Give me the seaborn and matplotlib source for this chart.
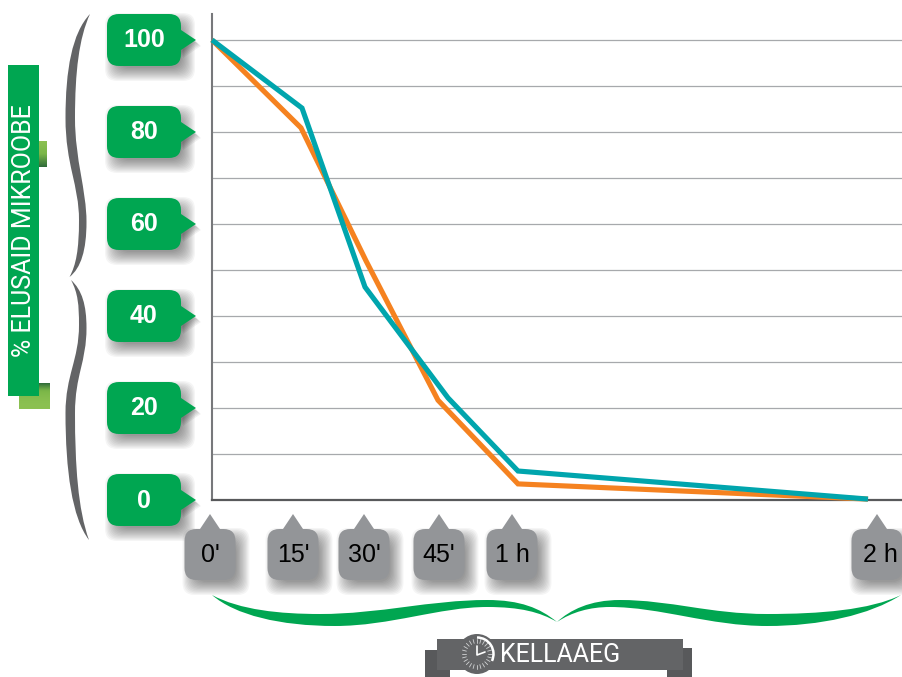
"""Elusaid mikroobe vs aeg: two decay curves with badge style axis labels."""
import numpy as np
import pandas as pd
import matplotlib
import matplotlib.pyplot as plt
from matplotlib.colors import LinearSegmentedColormap
from matplotlib.patches import Circle, FancyBboxPatch, PathPatch, Polygon, Rectangle, Arc
from matplotlib.path import Path
import seaborn as sns

matplotlib.use("Agg")

# chart values, x is the position along the (uneven) time axis
teal_x = [0, 90, 153, 236, 306, 656]
teal_y = [100, 85.2, 46.3, 22.2, 6.3, 0.2]
orange_x = [0, 89, 154, 226, 306, 656]
orange_y = [100, 80.9, 52, 21.7, 3.5, 0.2]

y_ticks = [0, 20, 40, 60, 80, 100]
grid_ticks = list(range(0, 101, 10))
time_labels = ["0'", "15'", "30'", "45'", "1 h", "2 h"]
time_label_x = [-2, 81, 152, 227, 300, 665]

y_title = "% ELUSAID MIKROOBE"
x_title = "KELLAAEG"

GREEN = "#00A651"
BADGE_GRAY = "#939598"
DARK_GRAY = "#636466"
TEAL = "#00A5AD"
ORANGE = "#F58220"

sns.set_theme(style="white")
plt.rcParams["font.family"] = ["Liberation Sans", "DejaVu Sans"]

W, H = 902, 677
fig = plt.figure(figsize=(W / 100, H / 100), dpi=100, facecolor="white")

# main plot
ax = fig.add_axes([212 / W, (H - 500) / H, 690 / W, 486 / H])
df = pd.concat(
    [
        pd.DataFrame({"x": orange_x, "y": orange_y, "serie": "orange"}),
        pd.DataFrame({"x": teal_x, "y": teal_y, "serie": "teal"}),
    ]
)
sns.lineplot(
    data=df,
    x="x",
    y="y",
    hue="serie",
    palette={"orange": ORANGE, "teal": TEAL},
    estimator=None,
    sort=False,
    linewidth=3.7,
    legend=False,
    ax=ax,
    zorder=5,
)
for line in ax.lines:
    line.set_clip_on(False)
    line.set_solid_joinstyle("miter")
    line.set_solid_capstyle("butt")
ax.set_xlim(0, 690)
ax.set_ylim(0, 105.65)
ax.set_yticks(grid_ticks)
ax.set_xticks([])
ax.tick_params(left=False, labelleft=False, bottom=False)
ax.set_xlabel("")
ax.set_ylabel("")
ax.grid(axis="y", color="#a7a9ac", linewidth=0.9)
ax.set_axisbelow(True)
sns.despine(ax=ax, top=True, right=True)
ax.spines["left"].set_color("#77787b")
ax.spines["left"].set_linewidth(1.5)
ax.spines["bottom"].set_color("#58595b")
ax.spines["bottom"].set_linewidth(1.6)

# overlay in image pixels for the badges and braces
deco = fig.add_axes([0, 0, 1, 1], facecolor="none")
deco.set_xlim(0, W)
deco.set_ylim(H, 0)
deco.axis("off")


def data_to_px(x, y):
    px, py = ax.transData.transform((x, y))
    return px, H - py


def soft_shadow(x, y, w, h, radius, dx=6, dy=7, zorder=1):
    for grow in np.linspace(8, -5, 12):
        deco.add_patch(
            FancyBboxPatch(
                (x + dx - grow + radius, y + dy - grow + radius),
                w + 2 * grow - 2 * radius,
                h + 2 * grow - 2 * radius,
                boxstyle=f"round,pad={radius},rounding_size={radius}",
                facecolor="black",
                edgecolor="none",
                alpha=0.04,
                zorder=zorder,
                clip_on=False,
            )
        )


def tip_shadow(points, dx=5, dy=6):
    for step in range(5):
        shifted = [(px + dx - step, py + dy - step) for px, py in points]
        deco.add_patch(Polygon(shifted, facecolor="black", edgecolor="none", alpha=0.06, zorder=1))


def rounded(x, y, w, h, radius, color, zorder=3):
    deco.add_patch(
        FancyBboxPatch(
            (x + radius, y + radius),
            w - 2 * radius,
            h - 2 * radius,
            boxstyle=f"round,pad={radius},rounding_size={radius}",
            facecolor=color,
            edgecolor="none",
            zorder=zorder,
            clip_on=False,
        )
    )


# y axis badges
for value in y_ticks:
    _, cy = data_to_px(0, value)
    tip = [(178, cy - 12), (196, cy), (178, cy + 12)]
    soft_shadow(107, cy - 26, 74, 52, 12)
    tip_shadow(tip)
    deco.add_patch(Polygon(tip, facecolor=GREEN, edgecolor="none", zorder=3))
    rounded(107, cy - 26, 74, 52, 12, GREEN)
    deco.text(144, cy + 7.5, str(value), color="white", fontsize=18, fontweight="bold",
              ha="center", va="baseline", zorder=4)

# time axis badges
for label, pos in zip(time_labels, time_label_x):
    cx, _ = data_to_px(pos, 0)
    tip = [(cx - 12, 532), (cx, 514), (cx + 12, 532)]
    soft_shadow(cx - 25.5, 529, 51, 51, 12)
    deco.add_patch(Polygon(tip, facecolor=BADGE_GRAY, edgecolor="none", zorder=3))
    rounded(cx - 25.5, 529, 51, 51, 12, BADGE_GRAY)
    # the 2 h label sits off centre in its badge
    text_x = cx + 3 if label == "2 h" else cx
    deco.text(text_x, 561.5, label, color="black", fontsize=18, ha="center", va="baseline", zorder=4)


def bezier_patch(start, segments, color):
    verts = [start]
    codes = [Path.MOVETO]
    for seg in segments:
        verts.extend(seg)
        codes.extend([Path.CURVE4] * 3)
    deco.add_patch(PathPatch(Path(verts, codes), facecolor=color, edgecolor="none", zorder=2, clip_on=False))


# left gray brace
bezier_patch((90, 14), [
    [(72, 33), (65.5, 70), (65.5, 118)],
    [(65.5, 165), (79, 185), (79, 220)],
    [(79, 250), (76, 265), (69.5, 277)],
    [(81, 268), (86.5, 250), (86.5, 222)],
    [(86.5, 190), (75, 160), (75, 118)],
    [(75, 72), (79, 38), (90, 14)],
], DARK_GRAY)
bezier_patch((71, 280), [
    [(82, 290), (86.5, 305), (86.5, 328)],
    [(86.5, 362), (75, 375), (75, 413)],
    [(75, 465), (78, 510), (89, 540)],
    [(72, 518), (65.5, 470), (65.5, 413)],
    [(65.5, 375), (79, 360), (79, 325)],
    [(79, 305), (78, 293), (71, 280)],
], DARK_GRAY)

# bottom green brace
bezier_patch((212, 595), [
    [(240, 610), (280, 614), (320, 614)],
    [(380, 614), (430, 600), (487, 600)],
    [(520, 600), (540, 608), (557, 622)],
    [(540, 612), (520, 607), (487, 607)],
    [(440, 607), (390, 626), (335, 626)],
    [(280, 626), (235, 615), (212, 595)],
], GREEN)
bezier_patch((557, 622), [
    [(570, 610), (590, 600), (620, 600)],
    [(670, 600), (710, 614), (767, 614)],
    [(820, 614), (870, 610), (901, 595)],
    [(870, 615), (820, 626), (767, 626)],
    [(710, 626), (660, 607), (610, 607)],
    [(590, 607), (572, 612), (557, 622)],
], GREEN)

# y title ribbon with its two gradient tabs
tab_cmap = LinearSegmentedColormap.from_list("tab", ["#8CC152", "#7AB648", "#2F6B3A"])
deco.imshow(np.linspace(0, 1, 64).reshape(-1, 1), cmap=tab_cmap, extent=(39, 47, 167, 141),
            aspect="auto", zorder=2)
deco.imshow(np.linspace(1, 0, 64).reshape(-1, 1) ** 2, cmap=tab_cmap, extent=(19, 50, 409, 383),
            aspect="auto", zorder=2)
deco.set_xlim(0, W)
deco.set_ylim(H, 0)
deco.add_patch(Rectangle((8, 65), 31, 331, facecolor=GREEN, edgecolor="none", zorder=3))
deco.text(24, 231, y_title, color="white", rotation=90, fontsize=18, family="Roboto",
          ha="center", va="center", zorder=4)

# x title banner
deco.add_patch(Rectangle((425, 650), 25, 27, facecolor="#58595b", edgecolor="none", zorder=2))
deco.add_patch(Rectangle((667, 648), 25, 29, facecolor="#58595b", edgecolor="none", zorder=2))
deco.add_patch(Rectangle((437, 639), 246, 31, facecolor=DARK_GRAY, edgecolor="none", zorder=3))
deco.text(500, 655, x_title, color="white", fontsize=18, family="Roboto",
          ha="left", va="center", zorder=4)

# clock icon
cx, cy = 477, 654
deco.add_patch(Circle((cx, cy), 20, facecolor=DARK_GRAY, edgecolor="none", zorder=4))
for angle in np.arange(0, 360, 15):
    rad = np.deg2rad(angle)
    deco.plot([cx + 11 * np.cos(rad), cx + 15 * np.cos(rad)],
              [cy + 11 * np.sin(rad), cy + 15 * np.sin(rad)],
              color="#d1d3d4", linewidth=0.6, zorder=5)
deco.add_patch(Arc((cx, cy), 33, 33, theta1=-90, theta2=25, color="white", linewidth=1.8, zorder=6))
deco.plot([cx + 8, cx, cx], [cy - 2, cy + 1, cy - 8], color="white", linewidth=1.2, zorder=6)
deco.set_xlim(0, W)
deco.set_ylim(H, 0)

fig.savefig("out.png", dpi=100)
